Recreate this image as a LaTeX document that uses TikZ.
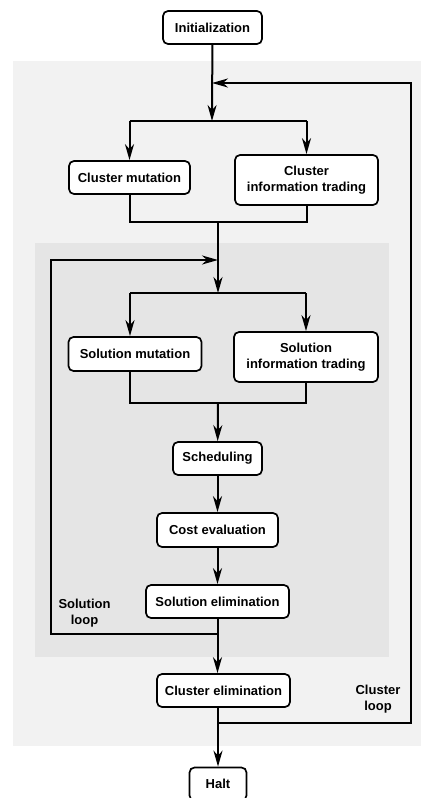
\documentclass[tikz,border=0pt]{standalone}
\usepackage{fontspec}
\newfontfamily\flowfont{Liberation Sans}
\usetikzlibrary{arrows.meta}
\definecolor{outerbg}{HTML}{F2F2F2}
\definecolor{innerbg}{HTML}{E5E5E5}
\tikzset{
  stage/.style={draw, fill=white, rounded corners=5pt, line width=1.7pt,
    align=center, inner sep=0pt,
    font=\flowfont\bfseries\fontsize{13}{16.5}\selectfont},
  looplabel/.style={align=center, inner sep=0pt,
    font=\flowfont\bfseries\fontsize{13}{16.5}\selectfont},
  flow/.style={line width=2pt},
  >={Stealth[length=16pt,width=9pt,inset=5pt]}
}
\begin{document}
\begin{tikzpicture}[x=1pt,y=-1pt]
      \useasboundingbox (0,0) rectangle (421,798);
      % loop areas
      \fill[outerbg] (13,61) rectangle (421,746);
      \fill[innerbg] (35,243) rectangle (389,657);
      % stages
      \node[stage, minimum width=99pt, minimum height=33pt] (init) at (212.5,27.5) {Initialization};
      \node[stage, minimum width=121pt, minimum height=33pt] (cmut) at (129.5,177.5) {Cluster mutation};
      \node[stage, minimum width=143pt, minimum height=50pt] (ctrade) at (306.5,180) {Cluster\\information trading};
      \node[stage, minimum width=133pt, minimum height=34pt] (smut) at (135,354) {Solution mutation};
      \node[stage, minimum width=144pt, minimum height=50pt] (strade) at (306,357) {Solution\\information trading};
      \node[stage, minimum width=89pt, minimum height=33pt] (sched) at (217.5,458.5) {Scheduling};
      \node[stage, minimum width=121pt, minimum height=34pt] (cost) at (217.5,530) {Cost evaluation};
      \node[stage, minimum width=143pt, minimum height=33pt] (selim) at (217.5,601.5) {Solution elimination};
      \node[stage, minimum width=133pt, minimum height=33pt] (celim) at (223.5,690.5) {Cluster elimination};
      \node[stage, minimum width=57pt, minimum height=33pt] (halt) at (218,784) {Halt};
      % loop labels
      \node[looplabel] (slooptxt) at (84.5,613) {Solution\\loop};
      \node[looplabel] (clooptxt) at (378,699) {Cluster\\loop};
      % junctions
      \coordinate (cjoin) at (212,83);
      \coordinate (csplit) at (212,121);
      \coordinate (cmerge) at (218,222);
      \coordinate (sjoin) at (218,260);
      \coordinate (ssplit) at (218,293);
      \coordinate (ssplitl) at (130,293);
      \coordinate (ssplitr) at (306,293);
      \coordinate (smerge) at (218,403);
      \coordinate (smergel) at (130,403);
      \coordinate (send) at (218,634);
      \coordinate (cend) at (218,723);
      \coordinate (sloopcorner) at (51,260);
      \coordinate (cloopcorner) at (411,83);
      % cluster branches
      \draw[flow,->] (init) -- (csplit);
      \draw[flow] (cmut |- csplit) -- (ctrade |- csplit);
      \draw[flow,->] (cmut |- csplit) -- (cmut);
      \draw[flow,->] (ctrade |- csplit) -- (ctrade);
      \draw[flow] (cmut) -- (cmut |- cmerge) -- (ctrade |- cmerge) -- (ctrade);
      \draw[flow,->] (cmerge) -- (ssplit);
      % solution branches
      \draw[flow] (ssplitl) -- (ssplitr);
      \draw[flow,->] (ssplitl) -- (ssplitl |- smut.north);
      \draw[flow,->] (ssplitr) -- (strade);
      \draw[flow] (ssplitl |- smut.south) -- (smergel) -- (strade |- smergel) -- (strade);
      \draw[flow,->] (smerge) -- (sched);
      \draw[flow,->] (sched) -- (cost);
      \draw[flow,->] (cost) -- (selim);
      \draw[flow,->] (selim) -- (selim |- celim.north);
      \draw[flow,->] (celim.south -| halt) -- (halt);
      % loops
      \draw[flow,->] (send) -| (sloopcorner) -- (sjoin);
      \draw[flow,->] (cend) -| (cloopcorner) -- (cjoin);
\end{tikzpicture}
\end{document}
